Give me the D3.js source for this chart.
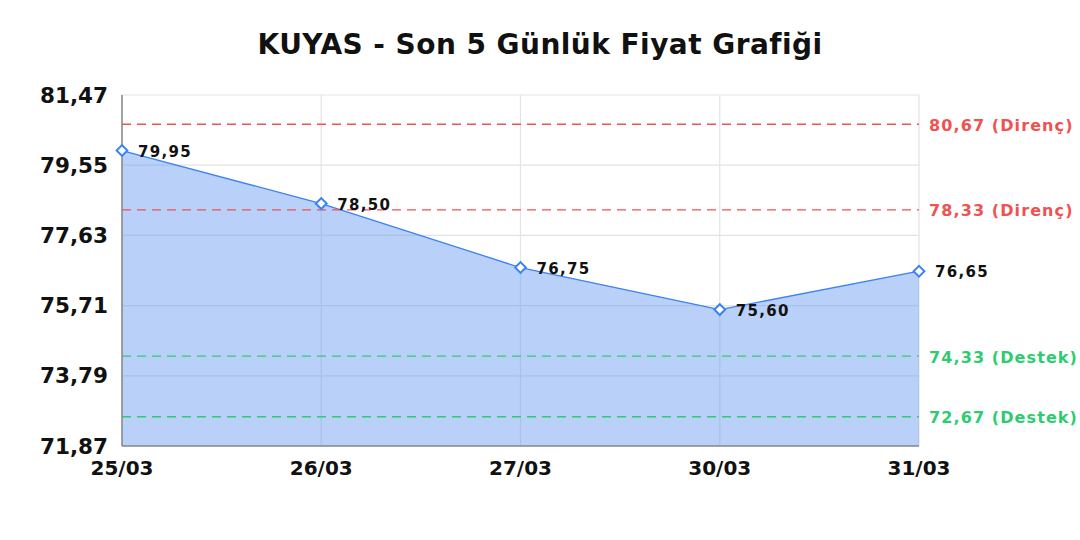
<!DOCTYPE html>
<html lang="tr">
<head>
<meta charset="UTF-8">
<title>KUYAS - Son 5 Günlük Fiyat Grafiği</title>
<script src="https://d3js.org/d3.v7.min.js"></script>
<style>
  body { margin: 0; background: #fff; font-family: 'DejaVu Sans', sans-serif; }
  svg text { font-family: 'DejaVu Sans', sans-serif; font-weight: bold; }
</style>
</head>
<body>
<svg width="1080" height="540"></svg>
<script>
  const dates = ["25/03", "26/03", "27/03", "30/03", "31/03"];
  const prices = [79.95, 78.50, 76.75, 75.60, 76.65];
  const yTicks = [71.87, 73.79, 75.71, 77.63, 79.55, 81.47];
  const resistance = [80.67, 78.33];
  const support = [74.33, 72.67];

  const svg = d3.select("svg");
  const margin = { top: 95, right: 161, bottom: 94, left: 122 };
  const width = 1080, height = 540;
  const fmt = v => v.toFixed(2).replace(".", ",");

  const x = d3.scalePoint().domain(dates).range([margin.left, width - margin.right]);
  const y = d3.scaleLinear().domain([71.87, 81.47]).range([height - margin.bottom, margin.top]);

  // title
  svg.append("text")
    .attr("x", 540).attr("y", 54)
    .attr("text-anchor", "middle")
    .attr("font-size", 28).attr("letter-spacing", 0.45).attr("fill", "#111")
    .text("KUYAS - Son 5 Günlük Fiyat Grafiği");

  // grid
  svg.append("g").selectAll("line").data(yTicks).join("line")
    .attr("x1", margin.left).attr("x2", width - margin.right)
    .attr("y1", d => y(d)).attr("y2", d => y(d))
    .attr("stroke", "#e3e3e3").attr("stroke-width", 1.2);
  svg.append("g").selectAll("line").data(dates).join("line")
    .attr("x1", d => x(d)).attr("x2", d => x(d))
    .attr("y1", margin.top).attr("y2", height - margin.bottom)
    .attr("stroke", "#e3e3e3").attr("stroke-width", 1.2);

  // area + line
  const data = dates.map((d, i) => ({ date: d, value: prices[i] }));
  svg.append("path").datum(data)
    .attr("d", d3.area().x(d => x(d.date)).y0(y(71.87)).y1(d => y(d.value)))
    .attr("fill", "rgba(100, 150, 240, 0.45)");
  svg.append("path").datum(data)
    .attr("d", d3.line().x(d => x(d.date)).y(d => y(d.value)))
    .attr("fill", "none").attr("stroke", "#3b82f6").attr("stroke-width", 1.3);

  // support / resistance
  const levels = resistance.map(v => ({ v, kind: "Direnç", c: "#f05252" }))
    .concat(support.map(v => ({ v, kind: "Destek", c: "#2ecc71" })));
  svg.append("g").selectAll("line").data(levels).join("line")
    .attr("x1", margin.left).attr("x2", width - margin.right)
    .attr("y1", d => y(d.v)).attr("y2", d => y(d.v))
    .attr("stroke", d => d.c).attr("stroke-width", 1.3)
    .attr("stroke-dasharray", "9,6");
  svg.append("g").selectAll("text").data(levels).join("text")
    .attr("x", width - margin.right + 10).attr("y", d => y(d.v) + 1)
    .attr("dy", "0.35em").attr("font-size", 16).attr("letter-spacing", 1.1)
    .attr("fill", d => d.c)
    .text(d => `${fmt(d.v)} (${d.kind})`);

  // axes lines
  svg.append("line")
    .attr("x1", margin.left).attr("x2", margin.left)
    .attr("y1", margin.top).attr("y2", height - margin.bottom)
    .attr("stroke", "#888").attr("stroke-width", 1.5);
  svg.append("line")
    .attr("x1", margin.left).attr("x2", width - margin.right)
    .attr("y1", height - margin.bottom).attr("y2", height - margin.bottom)
    .attr("stroke", "#888").attr("stroke-width", 1.5);

  // tick labels
  svg.append("g").selectAll("text").data(yTicks).join("text")
    .attr("x", margin.left - 14).attr("y", d => y(d))
    .attr("dy", "0.35em").attr("text-anchor", "end")
    .attr("font-size", 21.5).attr("fill", "#111")
    .text(fmt);
  svg.append("g").selectAll("text").data(dates).join("text")
    .attr("x", d => x(d)).attr("y", height - margin.bottom + 29)
    .attr("text-anchor", "middle")
    .attr("font-size", 20).attr("fill", "#111")
    .text(d => d);

  // markers
  svg.append("g").selectAll("path").data(data).join("path")
    .attr("d", d3.symbol(d3.symbolSquare, 58))
    .attr("transform", d => `translate(${x(d.date)},${y(d.value)}) rotate(45)`)
    .attr("fill", "#fff").attr("stroke", "#3b82f6").attr("stroke-width", 2);

  // value labels
  svg.append("g").selectAll("text").data(data).join("text")
    .attr("x", d => x(d.date) + 16).attr("y", d => y(d.value) + 1)
    .attr("dy", "0.35em").attr("font-size", 15).attr("letter-spacing", 1.3)
    .attr("fill", "#111")
    .text(d => fmt(d.value));
</script>
</body>
</html>
